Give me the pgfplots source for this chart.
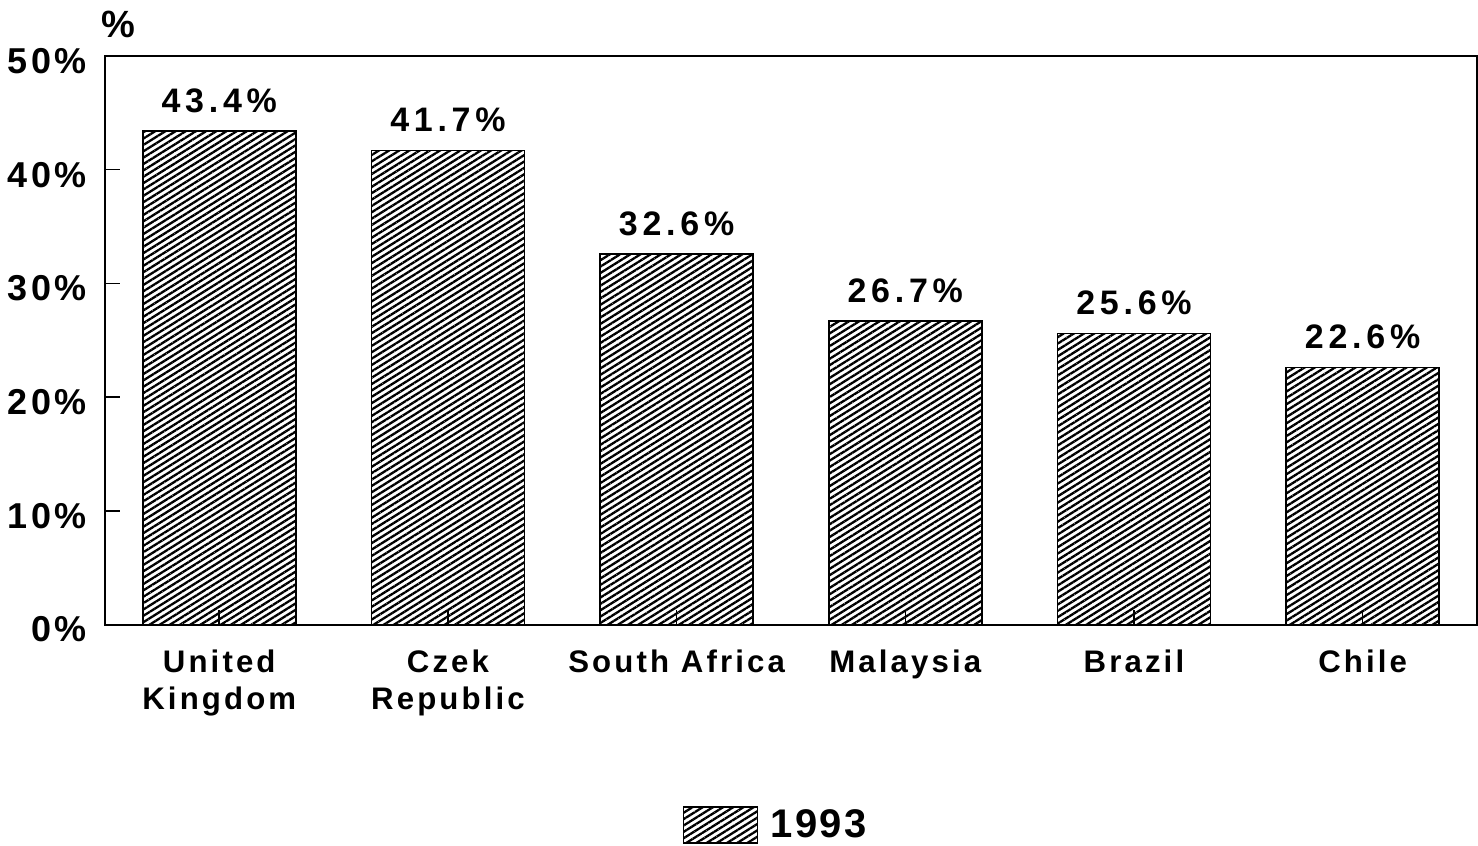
\documentclass[border=0pt]{standalone}
\usepackage{pgfplots}
\pgfplotsset{compat=1.18}
\usepackage{fontspec}
\setmainfont{Liberation Sans}
\usetikzlibrary{patterns.meta}
\newfontfamily\tickfont[LetterSpace=10]{Liberation Sans}
\newfontfamily\valfont[LetterSpace=14]{Liberation Sans}
\newfontfamily\catfont[LetterSpace=10]{Liberation Sans}
\newfontfamily\legfont[LetterSpace=6]{Liberation Sans}
\tikzset{hatch/.style={pattern={Lines[angle=32,distance=2.7pt,line width=1.15pt]},pattern color=black}}
\begin{document}
\begin{tikzpicture}
\begin{axis}[
  at={(0,0)}, anchor=south west,
  scale only axis, width=686.5pt, height=284.5pt,
  xmin=-0.5, xmax=5.5, ymin=0, ymax=50,
  enlargelimits=false, clip=false,
  ytick={0,10,20,30,40,50},
  yticklabel={\pgfmathprintnumber{\tick}\%},
  xtick={0,1,2,3,4,5},
  xticklabels={United\\Kingdom, Czek\\Republic, South Africa, Malaysia, Brazil, Chile},
  /pgf/number format/assume math mode=true,
  tick align=inside, major tick length=7.5pt,
  xtick pos=bottom, ytick pos=left,
  axis line style={line width=1pt},
  every tick/.style={black, line width=0.8pt},
  yticklabel style={font=\tickfont\bfseries\fontsize{18}{21}\selectfont, xshift=-5.5pt, yshift=-2.5pt},
  xticklabel style={font=\catfont\bfseries\fontsize{15.6}{18.5}\selectfont, align=center, anchor=north, yshift=-9pt},
  axis on top,
  nodes near coords={\pgfmathprintnumber[fixed,fixed zerofill,precision=1]{\pgfplotspointmeta}\%},
  every node near coord/.append style={font=\valfont\bfseries\fontsize{17}{20}\selectfont, anchor=south, yshift=5.5pt},
  legend style={at={(rel axis cs:0.4896,-0.352)}, anchor=center, draw=none, font=\legfont\bfseries\fontsize{20}{24}\selectfont},
]
\addplot[ybar, bar width=76.5pt, draw=black, line width=0.8pt, hatch,
  legend image code/.code={\draw[hatch, draw=black, line width=0.8pt] (0pt,-9pt) rectangle (37pt,9pt);}]
  coordinates {(0,43.4) (1,41.7) (2,32.6) (3,26.7) (4,25.6) (5,22.6)};
\addlegendentry{\hspace{4pt}1993}
\node[font=\bfseries\fontsize{19}{22}\selectfont] at (rel axis cs:0,1) [xshift=6.5pt, yshift=16pt] {\%};
\end{axis}
\pgfresetboundingbox
\path[use as bounding box] (-52.5pt,-110.5pt) rectangle (687pt,312.5pt);
\end{tikzpicture}
\end{document}
